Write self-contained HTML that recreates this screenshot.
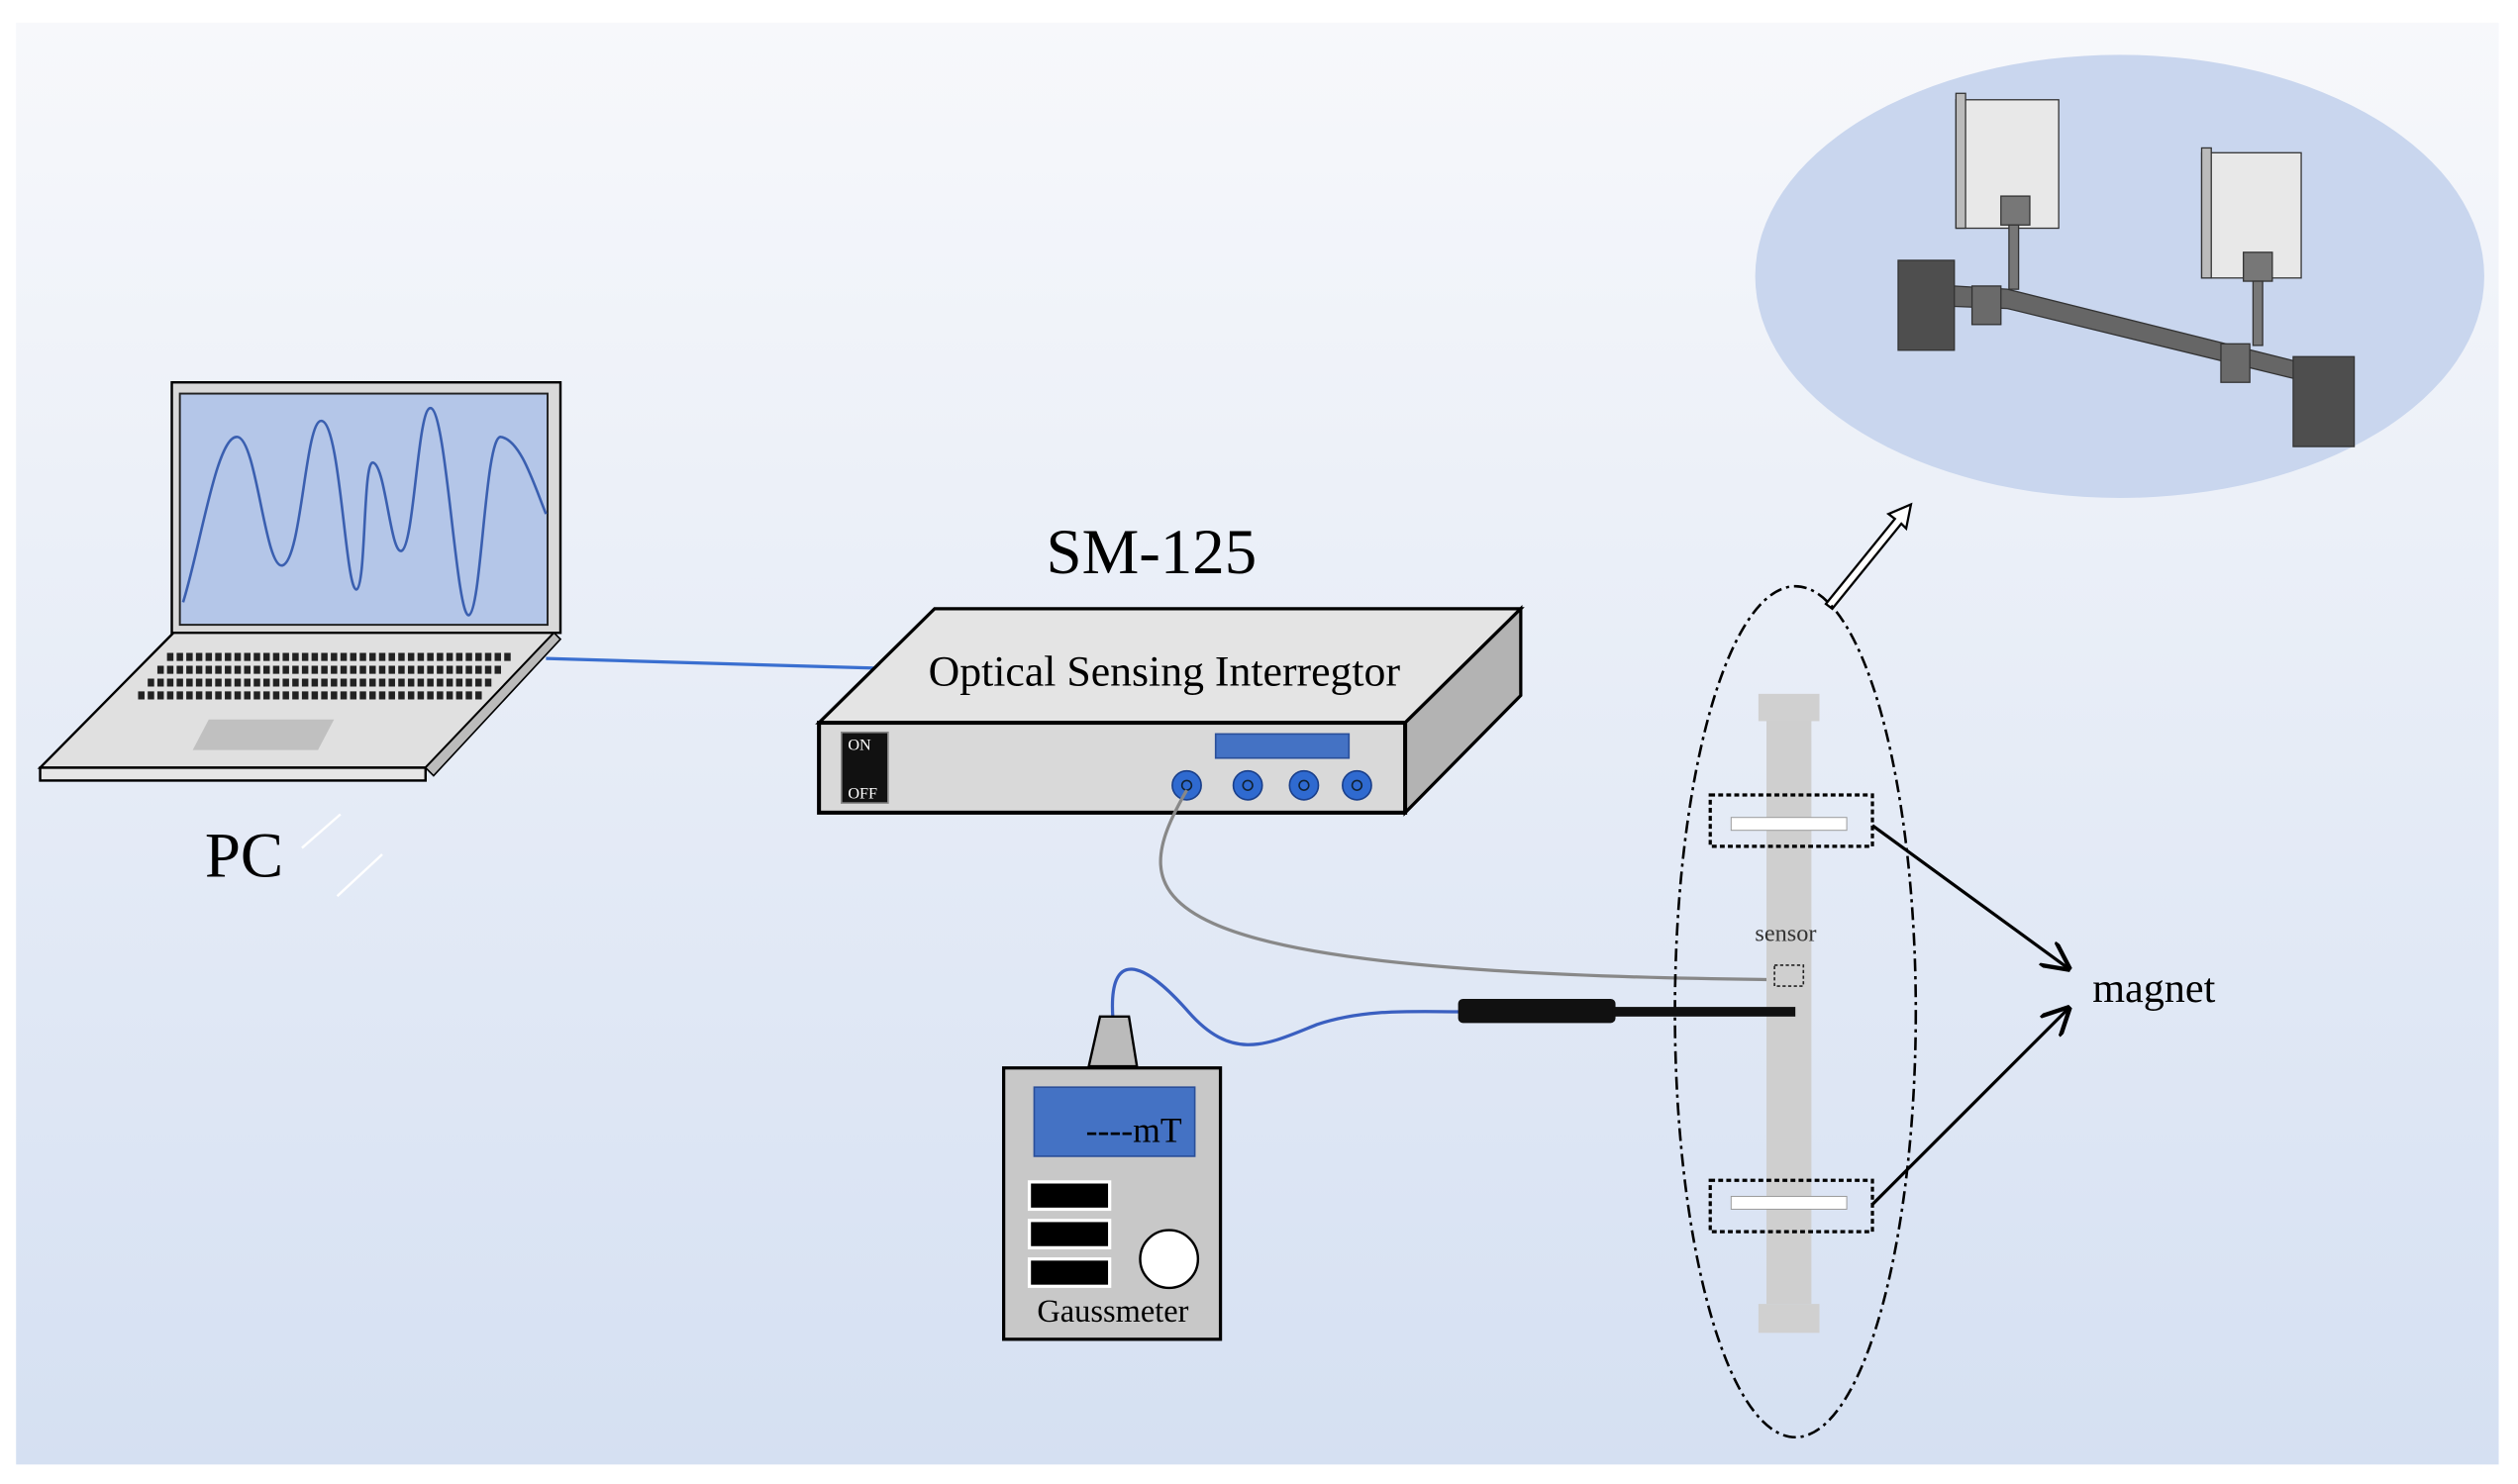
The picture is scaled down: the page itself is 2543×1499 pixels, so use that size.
<!DOCTYPE html>
<html><head><meta charset="utf-8"><style>html,body{margin:0;padding:0;background:#fff}svg{display:block}</style></head><body>
<svg width="2543" height="1499" viewBox="0 0 1568 924" xmlns="http://www.w3.org/2000/svg" font-family="Liberation Serif, serif">
<defs>
<linearGradient id="bg" x1="0" y1="0" x2="0" y2="1"><stop offset="0" stop-color="#f7f8fb"/><stop offset="1" stop-color="#d5e0f2"/></linearGradient>
<marker id="ah" viewBox="0 0 10 10" refX="9" refY="5" markerWidth="9" markerHeight="9" orient="auto"><path d="M0,0 L10,5 L0,10" fill="none" stroke="#000" stroke-width="1.5"/></marker>
</defs>
<rect width="1568" height="924" fill="#fff"/>
<rect x="10" y="14" width="1546" height="898" fill="url(#bg)"/>
<!-- top ellipse -->
<ellipse cx="1320" cy="172" rx="227" ry="138" fill="#c9d6ee"/>
<g stroke="#333" stroke-width="0.8">
<rect x="1218" y="62" width="64" height="80" fill="#e8e8e8"/><rect x="1218" y="58" width="6" height="84" fill="#bbb"/>
<rect x="1246" y="122" width="18" height="18" fill="#777"/><rect x="1251" y="140" width="6" height="40" fill="#777"/>
<rect x="1371" y="95" width="62" height="78" fill="#e8e8e8"/><rect x="1371" y="92" width="6" height="81" fill="#bbb"/>
<rect x="1397" y="157" width="18" height="18" fill="#777"/><rect x="1403" y="175" width="6" height="40" fill="#777"/>
<polygon points="1200,177 1250,180 1430,225 1430,236 1250,192 1200,190" fill="#666"/>
<rect x="1182" y="162" width="35" height="56" fill="#4e4e4e"/>
<rect x="1228" y="178" width="18" height="24" fill="#6a6a6a"/>
<rect x="1383" y="214" width="18" height="24" fill="#6a6a6a"/>
<rect x="1428" y="222" width="38" height="56" fill="#4e4e4e"/>
</g>
<!-- hollow arrow -->
<g stroke="#000" stroke-width="1.4" fill="#fff">
<polygon points="1137,376 1180,323 1176,320 1190,314 1187,329 1184,326 1141,379"/>
</g>
<!-- laptop -->
<rect x="107" y="238" width="242" height="156" fill="#d9d9d9" stroke="#000" stroke-width="1.5"/>
<rect x="112" y="245" width="229" height="144" fill="#b4c6e8" stroke="#222" stroke-width="1.2"/>
<path d="M114,375 C125,340 135,270 148,272 C160,274 165,355 176,352 C188,348 190,262 200,262 C212,262 215,368 222,367 C228,365 226,288 232,288 C240,288 243,345 250,343 C258,340 260,254 268,254 C278,254 284,385 292,383 C300,380 302,270 312,272 C324,274 332,300 340,320" fill="none" stroke="#3a5fb0" stroke-width="1.6"/>
<polygon points="108,394 345,394 265,478 25,478" fill="#e0e0e0" stroke="#000" stroke-width="1.5"/>
<polygon points="345,394 349,398 270,483 265,478" fill="#bbb" stroke="#000" stroke-width="1"/>
<rect x="25" y="478" width="240" height="8" fill="#e6e6e6" stroke="#000" stroke-width="1.5"/>
<g stroke="#222" stroke-width="5" stroke-dasharray="4,2">
<line x1="104" y1="409" x2="318" y2="409"/><line x1="98" y1="417" x2="312" y2="417"/><line x1="92" y1="425" x2="306" y2="425"/><line x1="86" y1="433" x2="300" y2="433"/>
</g>
<polygon points="130,448 208,448 198,467 120,467" fill="#c0c0c0"/>
<line x1="340" y1="410" x2="545" y2="416" stroke="#3a6fd0" stroke-width="2"/>
<text x="152" y="546" font-size="40" text-anchor="middle">PC</text>
<line x1="188" y1="528" x2="212" y2="507" stroke="#fff" stroke-width="1.5"/><line x1="210" y1="558" x2="238" y2="532" stroke="#fff" stroke-width="1.5"/>
<!-- interrogator -->
<text x="717" y="357" font-size="40" text-anchor="middle">SM-125</text>
<polygon points="510,450 582,379 947,379 875,450" fill="#e4e4e4" stroke="#000" stroke-width="2"/>
<polygon points="875,450 947,379 947,433 875,506" fill="#b3b3b3" stroke="#000" stroke-width="2"/>
<rect x="510" y="450" width="365" height="56" fill="#d9d9d9" stroke="#000" stroke-width="2.5"/>
<text x="725" y="427" font-size="27" text-anchor="middle">Optical Sensing Interregtor</text>
<rect x="524" y="456" width="29" height="44" fill="#111" stroke="#888"/>
<text x="528" y="467" font-size="10" fill="#fff">ON</text><text x="528" y="497" font-size="10" fill="#fff">OFF</text>
<rect x="757" y="457" width="83" height="15" fill="#4472c4" stroke="#2a4f9a"/>
<g fill="#2f6ad0" stroke="#1a3f8a"><circle cx="739" cy="489" r="9"/><circle cx="777" cy="489" r="9"/><circle cx="812" cy="489" r="9"/><circle cx="845" cy="489" r="9"/></g>
<g fill="none" stroke="#123"><circle cx="739" cy="489" r="3"/><circle cx="777" cy="489" r="3"/><circle cx="812" cy="489" r="3"/><circle cx="845" cy="489" r="3"/></g>
<!-- gray cable -->
<path d="M739,492 C700,560 700,606 1105,610" fill="none" stroke="#888" stroke-width="2"/>
<!-- sensor bar & ellipse -->
<rect x="1100" y="448" width="28" height="364" fill="#cfcfcf"/>
<rect x="1095" y="432" width="38" height="17" fill="#d0d0d0"/>
<rect x="1095" y="812" width="38" height="18" fill="#d0d0d0"/>
<rect x="1078" y="509" width="72" height="8" fill="#fff" stroke="#999" stroke-width="0.6"/>
<rect x="1078" y="745" width="72" height="8" fill="#fff" stroke="#999" stroke-width="0.6"/>
<g fill="none" stroke="#000" stroke-width="2" stroke-dasharray="3,2">
<rect x="1065" y="495" width="101" height="32"/><rect x="1065" y="735" width="101" height="32"/>
</g>
<rect x="1105" y="601" width="18" height="13" fill="none" stroke="#222" stroke-width="1" stroke-dasharray="2,1.5"/>
<text x="1112" y="586" font-size="15" text-anchor="middle" fill="#333">sensor</text>
<ellipse cx="1118" cy="630" rx="75" ry="265" fill="none" stroke="#000" stroke-width="1.6" stroke-dasharray="8,3,2,3"/>
<!-- gaussmeter -->
<path d="M693,634 C690,590 712,598 740,630 C768,662 790,650 820,638 C850,628 880,630 910,630" fill="none" stroke="#3a5fc0" stroke-width="2"/>
<rect x="908" y="622" width="98" height="15" rx="3" fill="#111"/>
<rect x="1004" y="627" width="114" height="6" fill="#111"/>
<polygon points="678,664 708,664 703,633 685,633" fill="#bbb" stroke="#000" stroke-width="1.5"/>
<rect x="625" y="665" width="135" height="169" fill="#c8c8c8" stroke="#000" stroke-width="2"/>
<rect x="644" y="677" width="100" height="43" fill="#4472c4" stroke="#2a4f9a"/>
<text x="736" y="711" font-size="22" text-anchor="end">----mT</text>
<g fill="#000" stroke="#fff" stroke-width="2"><rect x="641" y="736" width="50" height="17"/><rect x="641" y="760" width="50" height="17"/><rect x="641" y="784" width="50" height="17"/></g>
<circle cx="728" cy="784" r="18" fill="#fff" stroke="#000" stroke-width="1.5"/>
<text x="693" y="823" font-size="20" text-anchor="middle">Gaussmeter</text>
<!-- magnet arrows -->
<line x1="1166" y1="514" x2="1288" y2="603" stroke="#000" stroke-width="2" marker-end="url(#ah)"/>
<line x1="1166" y1="750" x2="1288" y2="628" stroke="#000" stroke-width="2" marker-end="url(#ah)"/>
<text x="1303" y="624" font-size="26">magnet</text>
</svg>
</body></html>
